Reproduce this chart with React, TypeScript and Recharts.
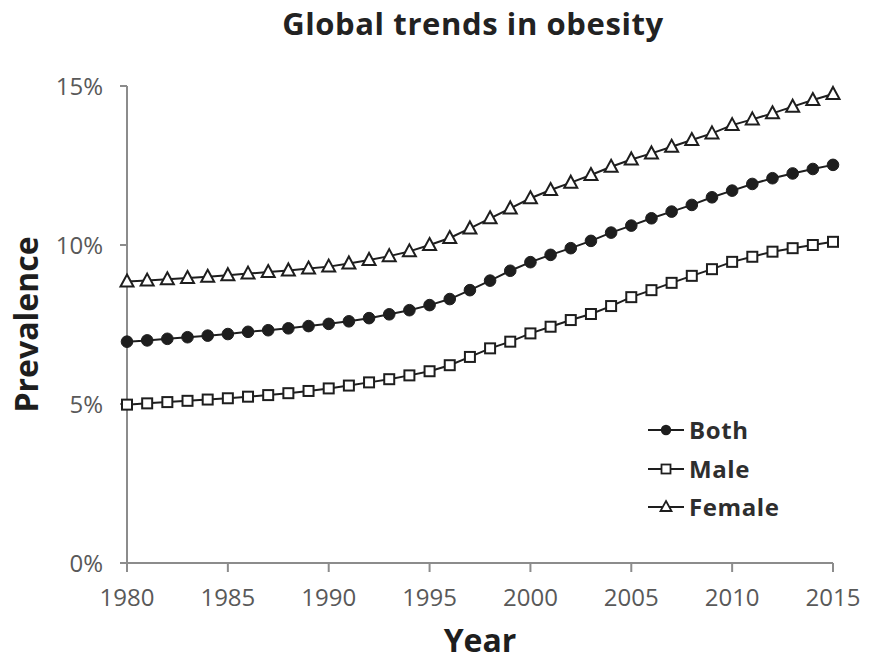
import React from "react";
import { LineChart, Line, XAxis, YAxis, Legend, Label } from "recharts";

const years = [
  1980, 1981, 1982, 1983, 1984, 1985, 1986, 1987, 1988, 1989, 1990, 1991,
  1992, 1993, 1994, 1995, 1996, 1997, 1998, 1999, 2000, 2001, 2002, 2003,
  2004, 2005, 2006, 2007, 2008, 2009, 2010, 2011, 2012, 2013, 2014, 2015,
];
const both = [
  6.96, 7.0, 7.05, 7.1, 7.15, 7.2, 7.27, 7.32, 7.38, 7.45, 7.52, 7.6, 7.7, 7.82,
  7.95, 8.11, 8.3, 8.58, 8.88, 9.19, 9.46, 9.69, 9.9, 10.13, 10.39, 10.61,
  10.84, 11.05, 11.26, 11.5, 11.71, 11.92, 12.1, 12.25, 12.39, 12.52,
];
const male = [
  4.98, 5.02, 5.06, 5.1, 5.14, 5.18, 5.23, 5.28, 5.34, 5.41, 5.49, 5.58, 5.68,
  5.78, 5.9, 6.03, 6.22, 6.48, 6.75, 6.96, 7.22, 7.43, 7.64, 7.83, 8.08, 8.36,
  8.58, 8.81, 9.03, 9.24, 9.47, 9.63, 9.79, 9.9, 10.0, 10.1,
];
const female = [
  8.85, 8.88, 8.92, 8.96, 9.0, 9.05, 9.1, 9.15, 9.2, 9.26, 9.32, 9.42, 9.53,
  9.65, 9.8, 10.0, 10.22, 10.52, 10.84, 11.15, 11.47, 11.73, 11.96, 12.2,
  12.46, 12.69, 12.88, 13.09, 13.3, 13.51, 13.77, 13.95, 14.14, 14.35, 14.56,
  14.75,
];
const xTicks = [1980, 1985, 1990, 1995, 2000, 2005, 2010, 2015];
const yTicks = [0, 5, 10, 15];

const data = years.map((year, i) => ({ year, both: both[i], male: male[i], female: female[i] }));

const FONT = "'Open Sans', 'Noto Sans', sans-serif";
const INK = "#1e1e1e";
const AXIS = "#8c8c8c";
const TICK = "#595959";

const Circle = (p: any) => <circle key={`c-${p.index}`} cx={p.cx} cy={p.cy} r={5.8} fill={INK} stroke={INK} />;
const Square = (p: any) => (
  <rect key={`s-${p.index}`} x={p.cx - 5} y={p.cy - 5} width={10} height={10} fill="#fff" stroke={INK} strokeWidth={2} />
);
const Triangle = (p: any) => (
  <path key={`t-${p.index}`} d={`M${p.cx},${p.cy - 7} L${p.cx + 6.5},${p.cy + 5} L${p.cx - 6.5},${p.cy + 5} Z`} fill="#fff" stroke={INK} strokeWidth={2} />
);

const legendItems = [
  { name: "Both", icon: (x: number, y: number) => <circle cx={x} cy={y} r={5.2} fill={INK} /> },
  { name: "Male", icon: (x: number, y: number) => <rect x={x - 4.5} y={y - 4.5} width={9} height={9} fill="#fff" stroke={INK} strokeWidth={1.8} /> },
  { name: "Female", icon: (x: number, y: number) => <path d={`M${x},${y - 6} L${x + 5.5},${y + 4} L${x - 5.5},${y + 4} Z`} fill="#fff" stroke={INK} strokeWidth={1.8} /> },
];

function LegendBox() {
  return (
    <div style={{ fontFamily: FONT }}>
      {legendItems.map((it) => (
        <div key={it.name} style={{ display: "flex", alignItems: "center", height: 38.5 }}>
          <svg width={38} height={20} style={{ flex: "none" }}>
            <line x1={0} y1={10} x2={36} y2={10} stroke={INK} strokeWidth={2} />
            {it.icon(18, 10)}
          </svg>
          <span style={{ fontSize: 24, fontWeight: 700, color: "#2e2e2e", marginLeft: 3, lineHeight: "26px", letterSpacing: 0.6 }}>{it.name}</span>
        </div>
      ))}
    </div>
  );
}

export default function App() {
  return (
    <div style={{ position: "relative", width: 885, height: 662, margin: -8, background: "#fff", fontFamily: FONT }}>
      <div style={{ position: "absolute", top: 1, left: 0, width: 946, textAlign: "center", fontSize: 31, fontWeight: 700, color: "#222", letterSpacing: 0.6, lineHeight: "44px" }}>
        Global trends in obesity
      </div>
      <LineChart width={885} height={662} data={data} margin={{ top: 86, right: 52, bottom: 39, left: 27 }}>
        <XAxis
          dataKey="year"
          type="number"
          domain={[1980, 2015]}
          ticks={xTicks}
          tickSize={9}
          tickMargin={17}
          stroke={AXIS}
          strokeWidth={2}
          height={60}
          tick={{ fill: TICK, fontSize: 24, fontFamily: FONT }}
        >
          <Label value="Year" position="insideBottom" offset={-29} style={{ fontSize: 32, fontWeight: 700, fill: INK, fontFamily: FONT }} />
        </XAxis>
        <YAxis
          domain={[0, 15]}
          ticks={yTicks}
          tickFormatter={(v) => `${v}%`}
          tickSize={7}
          tickMargin={17}
          stroke={AXIS}
          strokeWidth={2}
          width={100}
          tick={{ fill: TICK, fontSize: 24, fontFamily: FONT }}
        >
          <Label value="Prevalence" angle={-90} position="insideLeft" offset={0} style={{ fontSize: 32, fontWeight: 700, fill: INK, fontFamily: FONT, textAnchor: "middle" }} />
        </YAxis>
        <Legend
          verticalAlign="middle"
          align="center"
          wrapperStyle={{ left: 648, top: 411, width: 170 }}
          content={() => <LegendBox />}
        />
        <Line dataKey="both" name="Both" stroke={INK} strokeWidth={2} dot={Circle} isAnimationActive={false} />
        <Line dataKey="male" name="Male" stroke={INK} strokeWidth={2} dot={Square} isAnimationActive={false} />
        <Line dataKey="female" name="Female" stroke={INK} strokeWidth={2} dot={Triangle} isAnimationActive={false} />
      </LineChart>
    </div>
  );
}
